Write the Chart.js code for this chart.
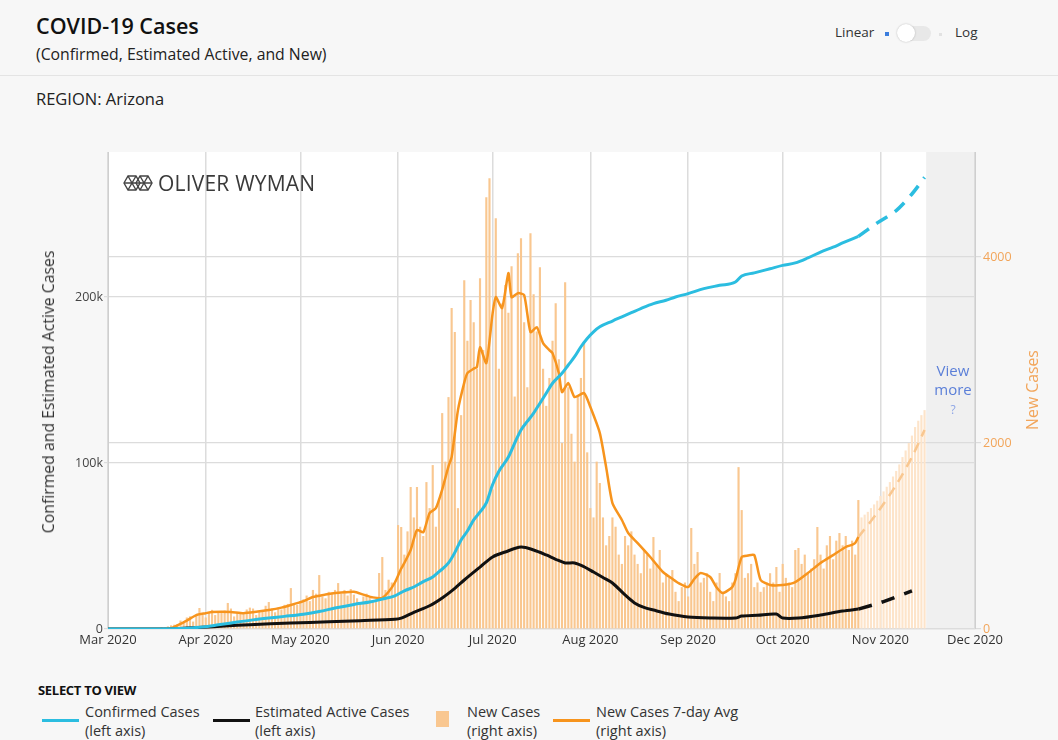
<!DOCTYPE html>
<html>
<head>
<meta charset="utf-8">
<script src="https://cdn.jsdelivr.net/npm/chart.js@4.4.1/dist/chart.umd.min.js"></script>
<style>
  body { margin: 0; background: #f7f7f7; font-family: "Open Sans", "Noto Sans", sans-serif; color: #222; }
  #page { position: relative; width: 1058px; height: 740px; overflow: hidden; }
  .abs { position: absolute; white-space: nowrap; }
  #title { left: 36px; top: 11px; font-size: 21.5px; font-weight: 600; color: #111; }
  #subtitle { left: 36px; top: 43px; font-size: 15.8px; color: #222; }
  #rule { left: 0; top: 75px; width: 1058px; height: 1px; background: #e4e4e4; }
  #region { left: 36px; top: 87px; font-size: 16.5px; color: #222; }
  .toggle-txt { top: 23px; font-size: 13.5px; color: #333; }
  #track { left: 897px; top: 26px; width: 34px; height: 15px; border-radius: 8px; background: #e8e8e8; }
  #knob { left: 897px; top: 24px; width: 18px; height: 18px; border-radius: 50%; background: #fff; box-shadow: 0 0 2px rgba(0,0,0,0.25); }
  #chartBox { position: absolute; left: 0; top: 140px; width: 1058px; height: 520px; }
  .axis-title { transform: translate(-50%, -50%) rotate(-90deg); font-size: 15.8px; }
  #logo { left: 123px; top: 169px; font-size: 21px; color: #3a3a3a; display: flex; align-items: center; gap: 5px; letter-spacing: 0.2px; }
  #viewMore { left: 953px; top: 361px; transform: translateX(-50%); text-align: center; font-size: 15px; line-height: 19px; color: #5b7fd8; }
  #legendHead { left: 38px; top: 681px; font-size: 13px; font-weight: 700; color: #111; letter-spacing: -0.3px; }
  .lg-txt { top: 702px; font-size: 14.5px; line-height: 19px; color: #333; }
  .lg-line { top: 719px; height: 3px; width: 37px; }
</style>
</head>
<body>
<div id="page">
  <div class="abs" id="title">COVID-19 Cases</div>
  <div class="abs" id="subtitle">(Confirmed, Estimated Active, and New)</div>
  <div class="abs" id="rule"></div>
  <div class="abs" id="region">REGION: Arizona</div>

  <div class="abs toggle-txt" style="left:835px">Linear</div>
  <div class="abs" style="left:885px;top:32px;width:4px;height:4px;background:#3b7ddd"></div>
  <div class="abs" id="track"></div>
  <div class="abs" id="knob"></div>
  <div class="abs" style="left:939px;top:33px;width:3px;height:3px;background:#e2e2e2"></div>
  <div class="abs toggle-txt" style="left:955px">Log</div>

  <div id="chartBox"><canvas id="covidChart"></canvas></div>

  <div class="abs axis-title" style="left:48px;top:392px;color:#333">Confirmed and Estimated Active Cases</div>
  <div class="abs axis-title" style="left:1032px;top:390px;color:#f2a55a">New Cases</div>

  <div class="abs" id="logo">
    <svg width="30" height="18" viewBox="0 0 30 18"><g fill="none" stroke="#444" stroke-width="1.4"><path d="M1 9 L5 2 L13 2 L17 9 L13 16 L5 16 Z"/><path d="M13 9 L17 2 L25 2 L29 9 L25 16 L17 16 Z"/><path d="M5 2 L13 16 M13 2 L5 16 M17 2 L25 16 M25 2 L17 16 M1 9 H29"/></g></svg>
    <span>OLIVER WYMAN</span>
  </div>
  <div class="abs" id="viewMore">View<br>more<br><span style="font-size:12px;color:#8ea6e6">?</span></div>

  <div class="abs" id="legendHead">SELECT TO VIEW</div>
  <div class="abs lg-line" style="left:42px;background:#2bbde0"></div>
  <div class="abs lg-txt" style="left:85px">Confirmed Cases<br>(left axis)</div>
  <div class="abs lg-line" style="left:213px;background:#111"></div>
  <div class="abs lg-txt" style="left:255px">Estimated Active Cases<br>(left axis)</div>
  <div class="abs" style="left:436px;top:711px;width:13px;height:16px;background:#f9c790"></div>
  <div class="abs lg-txt" style="left:467px">New Cases<br>(right axis)</div>
  <div class="abs lg-line" style="left:553px;background:#f7941d"></div>
  <div class="abs lg-txt" style="left:596px">New Cases 7-day Avg<br>(right axis)</div>
</div>

<script>
// x values are days since 1 Mar 2020
const monthDays = [0, 31, 61, 92, 122, 153, 184, 214, 245, 275];
const monthLabels = ['Mar 2020', 'Apr 2020', 'May 2020', 'Jun 2020', 'Jul 2020',
                     'Aug 2020', 'Sep 2020', 'Oct 2020', 'Nov 2020', 'Dec 2020'];
const leftTicks = [0, 100000, 200000];
const rightTicks = [0, 2000, 4000];

// daily new cases, 1 Mar .. 25 Oct (one line per week)
const newCases = [
  0, 0, 0, 0, 0, 0, 1,
  0, 1, 0, 1, 2, 3, 3,
  5, 6, 10, 18, 17, 28, 40,
  46, 50, 91, 78, 124, 136, 80,
  153, 226, 160, 124, 178, 206, 150,
  190, 180, 200, 280, 220, 135, 180,
  170, 160, 210, 230, 220, 150, 190,
  200, 250, 290, 220, 180, 230, 210,
  260, 270, 440, 280, 260, 300, 320,
  360, 300, 420, 380, 580, 350, 330,
  400, 390, 420, 494, 380, 420, 360,
  430, 370, 330, 280, 350, 380, 340,
  300, 320, 602, 774, 420, 530, 500,
  500, 1118, 1097, 800, 1050, 1527, 1200,
  1527, 1100, 1000, 1580, 1300, 1763, 1100,
  1400, 2322, 1800, 2494, 3451, 3193, 1300,
  2300, 3752, 3100, 3537, 3300, 2800, 3773,
  3000, 4644, 4848, 1500, 4418, 2800, 3500,
  3700, 3400, 3900, 2500, 4042, 4203, 3300,
  2600, 4257, 3600, 3200, 3891, 2800, 2400,
  2700, 3100, 3504, 2900, 2000, 3730, 2600,
  2100, 1800, 2500, 2700, 3075, 1900, 1300,
  1200, 1800, 1570, 1200, 900, 1000, 1200,
  1100, 800, 700, 1000, 900, 1050, 800,
  700, 600, 850, 800, 650, 989, 700,
  850, 500, 600, 550, 634, 400, 300,
  450, 500, 350, 1086, 700, 828, 500,
  550, 600, 400, 300, 500, 602, 400,
  350, 300, 500, 600, 1741, 1279, 550,
  600, 700, 450, 500, 400, 450, 500,
  600, 500, 667, 400, 700, 550, 500,
  450, 850, 871, 700, 800, 600, 650,
  750, 1097, 800, 650, 900, 1000, 750,
  950, 1032, 900, 1000, 850, 950, 800,
  1387
];
const forecastStart = 239;
const newCasesForecast = [1200, 1230, 1260, 1300, 1340, 1380, 1430, 1480, 1530, 1580,
  1640, 1700, 1770, 1849, 1920, 2000, 2080, 2172, 2240, 2300, 2354];

const avgDays = [0, 18, 20, 22, 25, 28, 31, 33, 36, 39, 43, 47, 51, 55, 58, 62, 65, 69, 72, 75,
  78, 81, 84, 87, 89, 91, 93, 94, 96, 98, 100, 102, 104, 106, 108, 109, 111, 113, 114, 116,
  117, 118, 120, 122, 123, 125, 127, 128, 130, 132, 134, 136, 138, 140, 141, 143, 144, 146, 148, 151,
  153, 156, 158, 160, 163, 165, 168, 172, 176, 179, 181, 184, 186, 188, 191, 193, 195, 198, 199, 201,
  203, 205, 207, 210, 214, 218, 222, 226, 230, 234, 236, 237, 238];
const avgValues = [0, 0, 10, 40, 90, 150, 170, 183, 185, 183, 170, 185, 204, 230, 258, 300, 344, 370, 387, 395,
  400, 370, 340, 335, 400, 500, 650, 710, 850, 1064, 1040, 1247, 1300, 1500, 1750, 1849, 2354, 2650, 2752, 2800,
  2817, 3031, 2860, 3397, 3569, 3451, 3827, 3569, 3612, 3590, 3193, 3246, 3075, 3000, 2967, 2750, 2548, 2645, 2494, 2537,
  2387, 2107, 1741, 1354, 1172, 1032, 924, 774, 613, 540, 494, 451, 540, 602, 559, 450, 387, 451, 527, 774,
  790, 795, 527, 473, 473, 505, 602, 710, 795, 882, 905, 924, 989];
const avgForecastDays = [238, 244, 250, 255, 259];
const avgForecastValues = [989, 1250, 1550, 1850, 2140];

const confirmedDays = [0, 10, 20, 25, 30, 35, 41, 46, 51, 56, 62, 67, 72, 78, 83, 87, 91, 94, 97, 100,
  103, 105, 108, 110, 112, 114, 116, 118, 120, 122, 124, 127, 129, 131, 133, 135, 137, 139, 141, 144,
  146, 148, 150, 152, 154, 156, 160, 163, 166, 169, 173, 177, 180, 184, 189, 194, 199, 201, 205, 210,
  214, 218, 222, 226, 230, 233, 238];
const confirmedValues = [0, 5, 150, 500, 1200, 2500, 4200, 5500, 6600, 7600, 8900, 10500, 12600, 14800, 16300, 18000, 20000, 23000, 25300, 28500,
  31300, 34500, 39800, 46000, 53600, 59000, 65700, 70500, 75900, 87000, 95000, 103600, 112000, 119900, 125000, 130000, 136000, 142000, 148000, 154000,
  159000, 164000, 170000, 175000, 179000, 182000, 185500, 188000, 190500, 193000, 196000, 198000, 200000, 202000, 205000, 207000, 209000, 212600, 214500, 217000,
  219000, 220500, 223500, 227000, 230000, 232500, 236500];
const confirmedForecastDays = [238, 244, 250, 255, 259];
const confirmedForecastValues = [236500, 244600, 252000, 262000, 272000];

const activeDays = [0, 19, 25, 30, 37, 45, 58, 70, 80, 91, 93, 97, 102, 106, 110, 113, 118, 122, 126, 131,
  135, 139, 142, 145, 148, 151, 154, 157, 160, 164, 167, 170, 173, 178, 184, 191, 199, 201, 206, 212,
  214, 219, 226, 233, 238];
const activeValues = [0, 0, 600, 1000, 1800, 2600, 3600, 4300, 5000, 5800, 6500, 10000, 14000, 18700, 24500, 29500, 37300, 43400, 46400, 49400,
  47600, 44600, 42000, 39800, 39800, 37500, 34300, 31000, 27700, 20500, 15700, 13000, 11400, 9000, 7200, 6600, 6600, 7800, 8300, 9000,
  6600, 6600, 8400, 10800, 12000];
const activeForecastDays = [238, 246, 255];
const activeForecastValues = [12000, 16500, 22900];

const xy = (days, vals) => days.map((d, i) => ({ x: d, y: vals[i] }));

const shadePlugin = {
  id: 'shade',
  beforeDraw(chart) {
    const { ctx, chartArea: a, scales } = chart;
    const fx = scales.x.getPixelForValue(forecastStart + newCasesForecast.length - 0.5);
    ctx.save();
    ctx.fillStyle = '#ffffff';
    ctx.fillRect(a.left, a.top, a.right - a.left, a.bottom - a.top);
    ctx.fillStyle = '#f0f0f0';
    ctx.fillRect(fx, a.top, a.right - fx, a.bottom - a.top);
    ctx.restore();
  }
};

const noPad = s => { s.paddingTop = 0; s.paddingBottom = 0; s.paddingLeft = 0; s.paddingRight = 0; };
const fontFamily = '"Open Sans", "Noto Sans", sans-serif';

new Chart(document.getElementById('covidChart'), {
  data: {
    datasets: [
      {
        type: 'line', label: 'Confirmed Cases', yAxisID: 'y', order: 1,
        data: xy(confirmedDays, confirmedValues),
        borderColor: '#2bbde0', borderWidth: 3, pointRadius: 0, cubicInterpolationMode: 'monotone'
      },
      {
        type: 'line', label: 'Confirmed Cases forecast', yAxisID: 'y', order: 1,
        data: xy(confirmedForecastDays, confirmedForecastValues),
        borderColor: '#2bbde0', borderWidth: 3.5, borderDash: [13, 9], pointRadius: 0, tension: 0.3
      },
      {
        type: 'line', label: 'Estimated Active Cases', yAxisID: 'y', order: 1,
        data: xy(activeDays, activeValues),
        borderColor: '#111', borderWidth: 3, pointRadius: 0, tension: 0.3
      },
      {
        type: 'line', label: 'Estimated Active Cases forecast', yAxisID: 'y', order: 1,
        data: xy(activeForecastDays, activeForecastValues),
        borderColor: '#111', borderWidth: 3.5, borderDash: [14, 10], pointRadius: 0, tension: 0.3
      },
      {
        type: 'line', label: 'New Cases 7-day Avg', yAxisID: 'y1', order: 2,
        data: xy(avgDays, avgValues),
        borderColor: '#f7941d', borderWidth: 2.5, pointRadius: 0, tension: 0.2
      },
      {
        type: 'line', label: 'New Cases 7-day Avg forecast', yAxisID: 'y1', order: 2,
        data: xy(avgForecastDays, avgForecastValues),
        borderColor: '#f9c790', borderWidth: 2.5, borderDash: [10, 7], pointRadius: 0, tension: 0.3
      },
      {
        type: 'bar', label: 'New Cases', yAxisID: 'y1', order: 3, grouped: false,
        data: newCases.map((v, i) => ({ x: i, y: v })),
        backgroundColor: '#f9c790', barPercentage: 0.68, categoryPercentage: 1
      },
      {
        type: 'bar', label: 'New Cases forecast', yAxisID: 'y1', order: 3, grouped: false,
        data: newCasesForecast.map((v, i) => ({ x: forecastStart + i, y: v })),
        backgroundColor: '#fde4ca', barPercentage: 0.68, categoryPercentage: 1
      }
    ]
  },
  options: {
    responsive: true,
    maintainAspectRatio: false,
    animation: false,
    layout: { padding: { top: 12, left: 0, right: 0, bottom: 0 } },
    plugins: { legend: { display: false }, tooltip: { enabled: false } },
    scales: {
      x: {
        type: 'linear', min: 0, max: 275, offset: false,
        afterBuildTicks: s => { s.ticks = monthDays.map(v => ({ value: v })); },
        afterFit: s => { s.height = 31; noPad(s); },
        grid: { color: '#dcdcdc', lineWidth: 1.5, drawTicks: false, offset: false },
        border: { display: false },
        ticks: {
          padding: 3, color: '#333', font: { family: fontFamily, size: 13 }, maxRotation: 0, autoSkip: false,
          callback: v => monthLabels[monthDays.indexOf(v)]
        }
      },
      y: {
        position: 'left', min: 0, max: 287300,
        afterBuildTicks: s => { s.ticks = leftTicks.map(v => ({ value: v })); },
        afterFit: s => { s.width = 108; noPad(s); },
        grid: { color: '#dcdcdc', lineWidth: 1.2, tickLength: 4 },
        border: { color: '#cfcfcf' },
        ticks: { padding: 1, color: '#444', font: { family: fontFamily, size: 12.5 },
                 callback: v => v === 0 ? '0' : (v / 1000) + 'k' }
      },
      y1: {
        position: 'right', min: 0, max: 5130,
        afterBuildTicks: s => { s.ticks = rightTicks.map(v => ({ value: v })); },
        afterFit: s => { s.width = 83; noPad(s); },
        grid: { color: '#dcdcdc', lineWidth: 1.2, tickLength: 6 },
        border: { color: '#cfcfcf' },
        ticks: { padding: 2, color: '#f2a55a', font: { family: fontFamily, size: 12.5 },
                 callback: v => String(v) }
      }
    }
  },
  plugins: [shadePlugin]
});
</script>
</body>
</html>
